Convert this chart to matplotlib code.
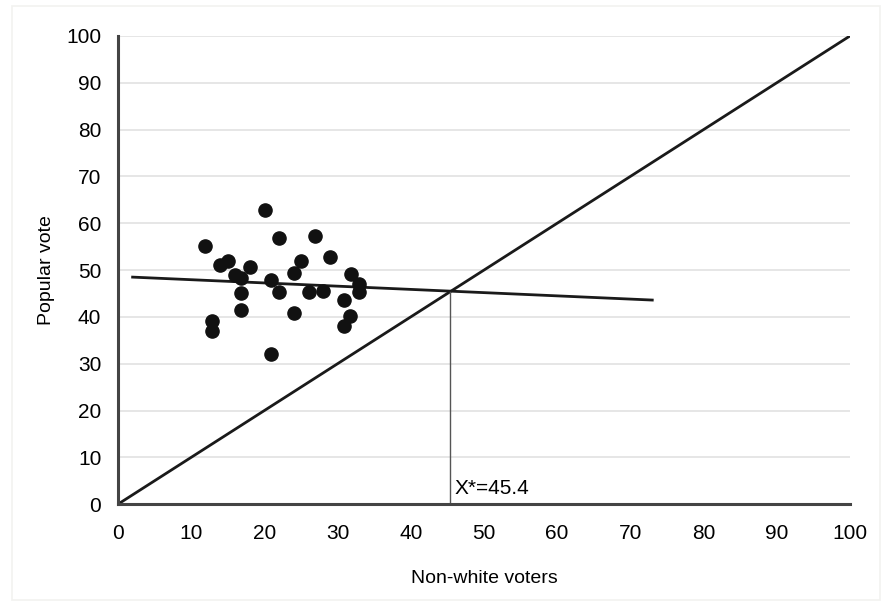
import numpy as np
import matplotlib
matplotlib.use('Agg')
from matplotlib import pyplot as plt
from matplotlib.patches import Rectangle

plt.rcParams['font.family'] = ['Liberation Sans', 'DejaVu Sans']

# scatter data
nonwhite = [11.9, 12.8, 12.8, 13.9, 15.0, 16.0, 16.8, 16.8, 16.8, 18.0,
            20.1, 20.9, 20.9, 22.0, 22.0, 24.0, 24.0, 25.0, 26.1, 26.9,
            28.0, 29.0, 30.9, 30.9, 31.7, 31.8, 32.9, 32.9]
popular = [55.1, 39.1, 37.0, 51.1, 51.9, 48.9, 48.3, 45.1, 41.5, 50.6,
           62.8, 47.9, 32.1, 56.8, 45.3, 40.8, 49.4, 51.9, 45.3, 57.3,
           45.5, 52.8, 43.6, 38.0, 40.2, 49.1, 47.0, 45.3]

# fitted line endpoints and equilibrium
fit_x = [2, 73]
fit_y = [48.5, 43.6]
x_star = 45.4

fig = plt.figure(figsize=(8.89, 6.06), dpi=100)
fig.patches.append(Rectangle((0.014, 0.01), 0.976, 0.98, transform=fig.transFigure,
                             fill=False, edgecolor='#f2f2f0', linewidth=1.2))
ax = fig.add_axes([0.1327, 0.168, 0.8233, 0.7726])

ax.set_xlim(0, 100)
ax.set_ylim(0, 100)
ax.set_xticks(range(0, 101, 10))
ax.set_yticks(range(0, 101, 10))
ax.tick_params(axis='x', length=0, labelsize=15, pad=14)
ax.tick_params(axis='y', length=0, labelsize=15, pad=12)
ax.grid(axis='y', color='#e2e2e2', linewidth=1.2)
ax.set_axisbelow(True)
for s in ['top', 'right']:
    ax.spines[s].set_visible(False)
for s in ['left', 'bottom']:
    ax.spines[s].set_linewidth(2.2)
    ax.spines[s].set_color('#444444')

# 45 degree line
ax.plot([0, 100], [0, 100], color='#1a1a1a', linewidth=2)
# fitted line
ax.plot(fit_x, fit_y, color='#1a1a1a', linewidth=2)
# vertical drop at x*
ax.plot([x_star, x_star], [0, x_star], color='#555555', linewidth=1)
ax.text(x_star + 0.6, 2.2, 'X*=45.4', fontsize=15)

ax.scatter(nonwhite, popular, s=90, color='#111111', zorder=3)

ax.set_xlabel('Non-white voters', fontsize=14, labelpad=20)
ax.set_ylabel('Popular vote', fontsize=14, labelpad=8)

fig.savefig('out.png', dpi=100)
